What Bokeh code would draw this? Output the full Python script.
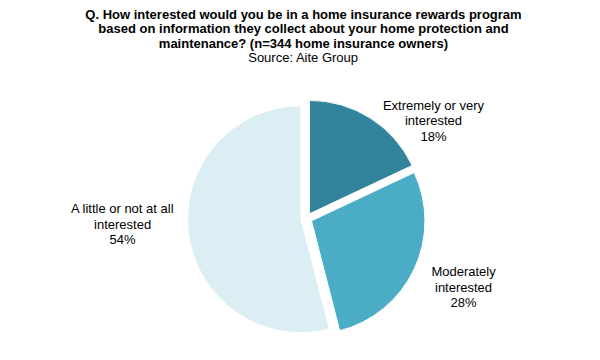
import math
from bokeh.plotting import figure
from bokeh.core.properties import value
from bokeh.models import ColumnDataSource
from bokeh.embed import file_html
from bokeh.resources import INLINE

# ---- data ----
categories = ["Extremely or very interested", "Moderately interested", "A little or not at all interested"]
label_lines = [["Extremely or very", "interested"], ["Moderately", "interested"], ["A little or not at all", "interested"]]
shares = [18, 28, 54]
colors = ["#31849B", "#4BACC6", "#DAEEF3"]
title_lines = [
    "Q. How interested would you be in a home insurance rewards program",
    "based on information they collect about your home protection and",
    "maintenance? (n=344 home insurance owners)",
]
source_line = "Source: Aite Group"

# ---- layout ----
W, H = 584, 344
CX, CY = 306, H - 218
R = 113.5
EXPLODE = 5.5
label_radius = [160.4, 171.5, 184]
label_angle_shift = [19.95, -1.5, 5.4]   # degrees, clockwise
FONT = "Liberation Sans"
FS = "13px"
LH_LABEL = 15.5
LH_TITLE = 14.5

p = figure(width=W, height=H, x_range=(0, W), y_range=(0, H),
           output_backend="svg", toolbar_location=None, min_border=0)
p.axis.visible = False
p.grid.visible = False
p.outline_line_color = None

total = sum(shares)
xs, ys, starts, ends, lx, ly = [], [], [], [], [], []
cum = 0
for i, s in enumerate(shares):
    a0 = cum / total * 2 * math.pi
    a1 = (cum + s) / total * 2 * math.pi
    mid = (a0 + a1) / 2
    cum += s
    xs.append(CX + EXPLODE * math.sin(mid))
    ys.append(CY + EXPLODE * math.cos(mid))
    starts.append(math.pi / 2 - a1)
    ends.append(math.pi / 2 - a0)
    la = mid + math.radians(label_angle_shift[i])
    lx.append(CX + label_radius[i] * math.sin(la))
    ly.append(CY + label_radius[i] * math.cos(la))

src = ColumnDataSource(dict(x=xs, y=ys, start=starts, end=ends, color=colors))
p.wedge(x="x", y="y", radius=R, start_angle="start", end_angle="end",
        direction="anticlock", fill_color="color", line_color="white",
        line_width=1, source=src)

# labels (middle line at computed anchor)
tx, ty, tt = [], [], []
for i in range(len(shares)):
    lines = label_lines[i] + [f"{shares[i]}%"]
    for j, t in enumerate(lines):
        tx.append(lx[i])
        ty.append(ly[i] + LH_LABEL - j * LH_LABEL)
        tt.append(t)
p.text(x=tx, y=ty, text=tt, text_align="center", text_baseline="middle",
       text_font=value(FONT), text_font_size=FS, text_color="#000000")

# title
TX = 303
title_y0 = H - 13.5
p.text(x=[TX] * 3, y=[title_y0 - k * LH_TITLE for k in range(3)], text=title_lines,
       text_align="center", text_baseline="middle", text_font=value(FONT),
       text_font_size=FS, text_font_style="bold", text_color="#000000")
p.text(x=[TX], y=[title_y0 - 3 * LH_TITLE], text=[source_line],
       text_align="center", text_baseline="middle", text_font=value(FONT),
       text_font_size=FS, text_color="#000000")

open("out.html", "w").write(file_html(p, INLINE))
